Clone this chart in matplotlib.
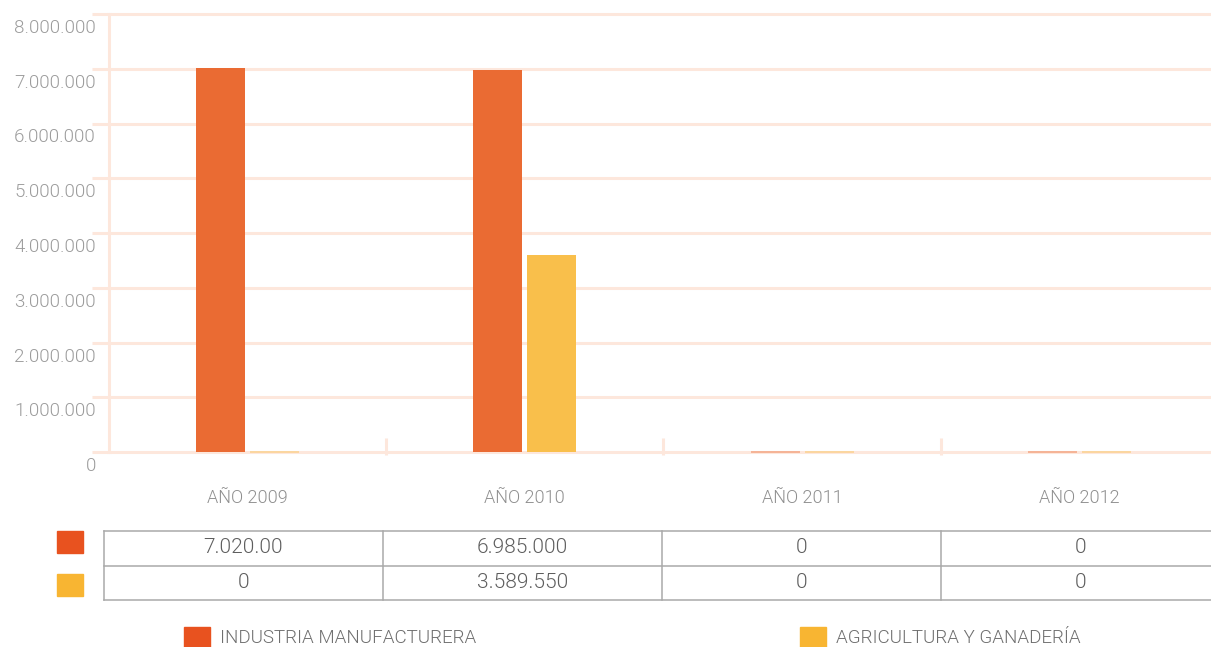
import matplotlib
matplotlib.use("Agg")
import matplotlib.pyplot as plt
import matplotlib.transforms as mtransforms
from matplotlib.patches import Rectangle
from matplotlib.colors import to_rgba
import numpy as np

# data
years = ["AÑO 2009", "AÑO 2010", "AÑO 2011", "AÑO 2012"]
industria = [7020000, 6985000, 0, 0]
agricultura = [0, 3589550, 0, 0]
series_names = ["INDUSTRIA MANUFACTURERA", "AGRICULTURA Y GANADERÍA"]
table_rows = [
    ["7.020.00", "6.985.000", "0", "0"],
    ["0", "3.589.550", "0", "0"],
]
y_ticks = [0, 1000000, 2000000, 3000000, 4000000, 5000000, 6000000, 7000000, 8000000]
y_tick_labels = ["0", "1.000.000", "2.000.000", "3.000.000", "4.000.000",
                 "5.000.000", "6.000.000", "7.000.000", "8.000.000"]

bar_colors = ["#ea6b33", "#f9bf4b"]
key_colors = ["#e8521f", "#f8b532"]
grid_color = "#fde7dc"
font = "Roboto"
weight = 300

W, H = 1211, 647
fig = plt.figure(figsize=(W / 100, H / 100), dpi=100)

# main axes, placed in pixel terms
x0, x1 = 109, 1218
y_zero, y_top = 452, 14
px_per_unit = (y_zero - y_top) / 8e6
ymin, ymax = -0.05e6, 8.1e6
ax_bottom = y_zero + (0 - ymin) * px_per_unit
ax_top = y_zero - ymax * px_per_unit
ax = fig.add_axes([x0 / W, 1 - ax_bottom / H, (x1 - x0) / W, (ax_bottom - ax_top) / H])
ax.set_xlim(-0.5, 3.5)
ax.set_ylim(ymin, ymax)

x = np.arange(len(years))
offset, width = 0.0975, 0.177
for vals, col, sign in [(industria, bar_colors[0], -1), (agricultura, bar_colors[1], 1)]:
    lws = [1.3 if v == 0 else 0 for v in vals]
    ax.bar(x + sign * offset, vals, width, color=col,
           edgecolor=to_rgba(col, 0.45), linewidth=lws, zorder=3)

# grid and axes styling
ax.set_yticks(y_ticks)
ax.set_yticklabels(y_tick_labels)
ax.yaxis.grid(True, color=grid_color, linewidth=2.2, zorder=0)
ax.tick_params(axis="y", length=12.5, width=2.2, color=grid_color, pad=-3,
               labelsize=13.5, labelcolor="#9c9c9c")
shift = mtransforms.ScaledTranslation(0, -12 / 100, fig.dpi_scale_trans)
for lab in ax.get_yticklabels():
    lab.set_fontfamily(font)
    lab.set_fontweight(weight)
    lab.set_transform(lab.get_transform() + shift)

ax.set_xticks(x)
ax.set_xticklabels(years)
ax.set_xticks(x[:-1] + 0.5, minor=True)
ax.tick_params(axis="x", which="major", length=0, pad=24.5, labelsize=13, labelcolor="#8f8f8f")
ax.tick_params(axis="x", which="minor", direction="in", length=12.5, width=2.2, color=grid_color)
for lab in ax.get_xticklabels():
    lab.set_fontfamily(font)
    lab.set_fontweight(weight)

for side in ["top", "right", "bottom"]:
    ax.spines[side].set_visible(False)
ax.spines["left"].set_color(grid_color)
ax.spines["left"].set_linewidth(2.2)
ax.spines["left"].set_bounds(0, 8e6)
ax.set_facecolor("none")

# overlay for data table and legend, pixel coordinates
ov = fig.add_axes([0, 0, 1, 1])
ov.set_xlim(0, W)
ov.set_ylim(H, 0)
ov.axis("off")

col_edges = [104, 383, 662, 941, 1220]
row_edges = [531, 566, 600]
line_col = "#a9a9a9"
for yy in row_edges:
    ov.plot([col_edges[0], W], [yy, yy], color=line_col, lw=1.1)
for xx in col_edges[:-1]:
    ov.plot([xx, xx], [row_edges[0], row_edges[-1]], color=line_col, lw=1.1)
for r, row in enumerate(table_rows):
    yc = (row_edges[r] + row_edges[r + 1]) / 2
    for c, txt in enumerate(row):
        xc = (col_edges[c] + col_edges[c + 1]) / 2
        ov.text(xc, yc - 1, txt, ha="center", va="center", fontsize=15,
                color="#5e5e5e", family=font, fontweight=weight)

# row keys
ov.add_patch(Rectangle((57, 531), 26, 22, color=key_colors[0]))
ov.add_patch(Rectangle((57, 574), 26, 22, color=key_colors[1]))

# legend
for lx, name, col in [(184, series_names[0], key_colors[0]), (800, series_names[1], key_colors[1])]:
    ov.add_patch(Rectangle((lx, 627), 26, 20, color=col))
    ov.text(lx + 36, 647, name, ha="left", va="bottom", fontsize=13.5,
            color="#6e6e6e", family=font, fontweight=weight)

fig.savefig("out.png", dpi=100)
